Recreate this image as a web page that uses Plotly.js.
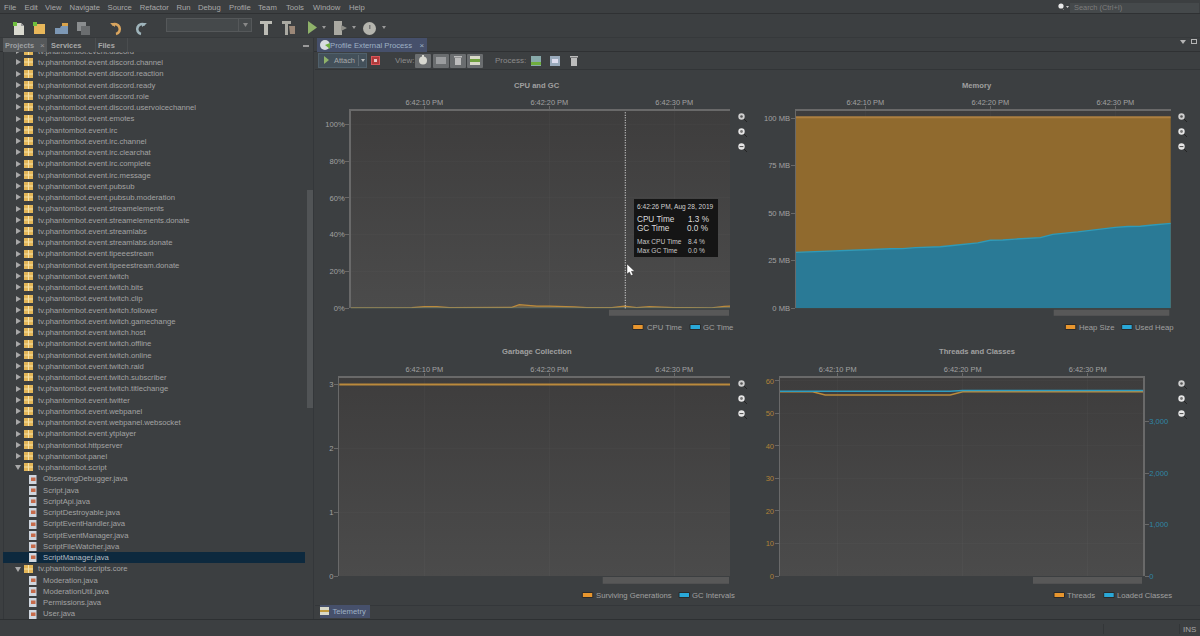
<!DOCTYPE html>
<html><head><meta charset="utf-8">
<script src="https://cdn.plot.ly/plotly-3.0.1.min.js"></script>
<style>
html,body{margin:0;padding:0;background:#3c3f41;overflow:hidden;width:1200px;height:636px;font-family:"Liberation Sans",Arial,sans-serif;}
#chrome{position:absolute;left:0;top:0;width:1200px;height:636px;overflow:hidden;}
#chart{position:absolute;left:0;top:0;width:1200px;height:636px;}
.t{position:absolute;white-space:nowrap;line-height:7px;height:7px;color:#a6a6a6;}
.b{position:absolute;box-sizing:border-box;}
svg.i{position:absolute;overflow:visible;}
</style></head><body>
<div id="chrome"></div><div id="chart"></div>
<script>
// ---------- chart data (seconds past 6:42:00 PM) ----------
const cpuSeconds   = [4,8,9,10,11,12,14,16,17,17.6,19,20,21,22,23,24,25,26,27,28,29,30,31,32,33,34,35];
const cpuTime      = [0.2,0.2,0.4,0.9,0.9,0.4,0.3,0.4,0.5,2.0,1.2,1.2,1.1,0.8,0.4,0.4,0.4,1.2,0.4,0.9,0.6,0.4,0.4,0.3,0.3,1.0,1.4];
const gcSeconds    = [4,35];
const gcTime       = [0,0];
const memSeconds   = [4,5,6,7,8,9,10,11,12,13,14,15,16,17,18,19,20,21,22,23,24,25,26,27,28,29,30,31,32,33,34,35];
const heapSize     = [100.5,100.5,100.5,100.5,100.5,100.5,100.5,100.5,100.5,100.5,100.5,100.5,100.5,100.5,100.5,100.5,100.5,100.5,100.5,100.5,100.5,100.5,100.5,100.5,100.5,100.5,100.5,100.5,100.5,100.5,100.5,100.5];
const usedHeap     = [29.3,29.6,29.9,30.1,30.4,30.7,31,31.1,31.3,31.4,31.9,32.1,32.4,33,33.6,34.4,35.8,35.9,36.4,36.8,37.2,38.9,39.4,40.2,41,41.9,42.6,43,43.2,43.8,44.4,45];
const genSeconds   = [3,35];
const survivingGen = [3,3];
const gcIntervals  = [null,null];
const thrSeconds   = [5,8,9,19,20,35];
const threads      = [56.7,56.7,55.7,55.7,56.7,56.7];
const clsSeconds   = [5,19,20,35];
const loadedClasses= [3590,3590,3605,3605];
const hoverSecond  = 26.08;

// ---------- text ----------
const menuLabels = [['File',4],['Edit',24.5],['View',45],['Navigate',69.6],['Source',107.5],['Refactor',139.7],['Run',176.4],['Debug',198],['Profile',229],['Team',258],['Tools',286],['Window',313],['Help',349]];
const treeRows = ['tv.phantombot.event.discord','tv.phantombot.event.discord.channel','tv.phantombot.event.discord.reaction','tv.phantombot.event.discord.ready','tv.phantombot.event.discord.role','tv.phantombot.event.discord.uservoicechannel','tv.phantombot.event.emotes','tv.phantombot.event.irc','tv.phantombot.event.irc.channel','tv.phantombot.event.irc.clearchat','tv.phantombot.event.irc.complete','tv.phantombot.event.irc.message','tv.phantombot.event.pubsub','tv.phantombot.event.pubsub.moderation','tv.phantombot.event.streamelements','tv.phantombot.event.streamelements.donate','tv.phantombot.event.streamlabs','tv.phantombot.event.streamlabs.donate','tv.phantombot.event.tipeeestream','tv.phantombot.event.tipeeestream.donate','tv.phantombot.event.twitch','tv.phantombot.event.twitch.bits','tv.phantombot.event.twitch.clip','tv.phantombot.event.twitch.follower','tv.phantombot.event.twitch.gamechange','tv.phantombot.event.twitch.host','tv.phantombot.event.twitch.offline','tv.phantombot.event.twitch.online','tv.phantombot.event.twitch.raid','tv.phantombot.event.twitch.subscriber','tv.phantombot.event.twitch.titlechange','tv.phantombot.event.twitter','tv.phantombot.event.webpanel','tv.phantombot.event.webpanel.websocket','tv.phantombot.event.ytplayer','tv.phantombot.httpserver','tv.phantombot.panel','tv.phantombot.script','ObservingDebugger.java','Script.java','ScriptApi.java','ScriptDestroyable.java','ScriptEventHandler.java','ScriptEventManager.java','ScriptFileWatcher.java','ScriptManager.java','tv.phantombot.scripts.core','Moderation.java','ModerationUtil.java','Permissions.java','User.java'];
const expandedRows = ['tv.phantombot.script','tv.phantombot.scripts.core'];
const selectedRow = 'ScriptManager.java';

// ---------- IDE chrome ----------
const root = document.getElementById('chrome');
function box(x,y,w,h,bg,extra){const d=document.createElement('div');d.className='b';d.style.cssText+=`left:${x}px;top:${y}px;width:${w}px;height:${h}px;background:${bg};`+(extra||'');(arguments[6]||root).appendChild(d);return d;}
function txt(x,y,s,size,color,extra,parent){const d=document.createElement('div');d.className='t';d.textContent=s;d.style.cssText+=`left:${x}px;top:${y-3.5}px;font-size:${size}px;color:${color||'#a6a6a6'};`+(extra||'');(parent||root).appendChild(d);return d;}
function icon(x,y,w,h,inner,parent){const ns='http://www.w3.org/2000/svg';const s=document.createElementNS(ns,'svg');s.setAttribute('class','i');s.setAttribute('width',w);s.setAttribute('height',h);s.setAttribute('viewBox',`0 0 ${w} ${h}`);s.style.left=x+'px';s.style.top=y+'px';s.innerHTML=inner;(parent||root).appendChild(s);}
// separators
box(0,13,1200,1,'#2f3133');box(0,37,1200,1,'#36393b');box(0,51,1200,1,'#2f3133');box(315,69,885,1,'#323537');
menuLabels.forEach(([m,x])=>txt(x,7,m,7.7,'#a9a9a9'));
// toolbar
const docI='<path d="M2 1h7l3 3v9H2z" fill="#d9d9cf"/><path d="M9 1l3 3H9z" fill="#999"/><rect x="1" y="0" width="4" height="4" fill="#6fbf3e"/>';
const pkgI='<rect x="1" y="2" width="11" height="10" fill="#e8b75a"/><rect x="0" y="0" width="4" height="4" fill="#6fbf3e"/>';
icon(12,22,13,14,docI);icon(33,22,13,14,pkgI);
icon(55,22,14,13,'<path d="M0 6h5l1-2h7v8H0z" fill="#7d98b5"/><rect x="7" y="1" width="6" height="3" fill="#d8a24a"/>');
icon(77,22,14,13,'<rect x="0" y="0" width="9" height="9" fill="#8a8d8f"/><rect x="4" y="4" width="9" height="9" fill="#6a6d6f"/>');
icon(110,22,14,13,'<path d="M2 3 A5 5 0 1 1 6 12" stroke="#d8a45e" stroke-width="2.6" fill="none"/><path d="M0 1l5 0 0 4z" fill="#d8a45e"/>');
icon(133,22,14,13,'<path d="M12 3 A5 5 0 1 0 8 12" stroke="#9fb4bb" stroke-width="2.6" fill="none"/><path d="M14 1l-5 0 0 4z" fill="#9fb4bb"/>');
box(166,18,86,14,'#45494b','border:1px solid #55585a;');
box(238,19,1,12,'#55585a');icon(243,23,5,4,'<path d="M0 0h5L2.5 4z" fill="#888"/>');
icon(260,21,12,14,'<path d="M0 0h12v3H8v11H4V3H0z" fill="#bcbcb5"/>');
icon(282,21,14,14,'<path d="M0 0h9v3H6v11H3V3H0z" fill="#aaa9a2"/><path d="M7 5h6v8H8z" fill="#9c8878"/>');
icon(308,21,9,13,'<path d="M0 0l9 6.5L0 13z" fill="#8fb26a"/>');icon(322,26,4,3,'<path d="M0 0h4L2 3z" fill="#999"/>');
icon(334,21,13,14,'<rect x="0" y="0" width="8" height="14" fill="#aaa9a2"/><path d="M7 4l6 3-6 3z" fill="#8e8e88"/>');icon(352,26,4,3,'<path d="M0 0h4L2 3z" fill="#999"/>');
icon(363,22,13,13,'<circle cx="6.5" cy="6.5" r="6.5" fill="#b5b5ae"/><rect x="6" y="3" width="1.5" height="4" fill="#777"/>');icon(382,26,4,3,'<path d="M0 0h4L2 3z" fill="#999"/>');
// search
icon(1058,3,7,8,'<circle cx="3" cy="3" r="2.6" fill="#e8e8e8"/><path d="M4 5l2 2" stroke="#777"/>');icon(1066,6,3,2,'<path d="M0 0h3L1.5 2z" fill="#ccc"/>');
box(1070,3,129,10,'#45494b');txt(1074,7,'Search (Ctrl+I)',7.4,'#7d7d7d');
// left pane
box(3,38,310,14,'#3f4244');box(3,38,44,14,'#55585a');box(95,38,1,14,'#4a4d4f');box(127,38,1,14,'#4a4d4f');
txt(5,45.5,'Projects',7.4,'#9ea0a2','font-weight:bold;');txt(40,45.5,'×',8,'#9a9a9a');
txt(51,45.5,'Services',7.4,'#a9a9a9','font-weight:bold;');txt(98,45.5,'Files',7.4,'#a9a9a9','font-weight:bold;');
box(303,45,6,1.5,'#9a9a9a');
box(3,52,1,567,'#34373a');box(3,619,310,1,'#2d3032');box(313,38,1,581,'#34373a');
const tree=box(3,52,303,567,'transparent','overflow:hidden;');
const rowY=i=>51.05+i*11.253-52+0.2;
treeRows.forEach((r,i)=>{
 const y=rowY(i),file=r.endsWith('.java');
 if(r===selectedRow) box(0,y-5.7,302,11,'#0d293e','',tree);
 if(file){
  icon(26,y-4.2,8,9,'<rect x="0" y="0" width="7.5" height="9" fill="#cfd6df"/><rect x="2" y="2.5" width="4.5" height="3.5" fill="#c56a4a"/>',tree);
  txt(40,y,r,7.7,r===selectedRow?'#b4bcc4':'#a3a3a3','',tree);
 } else {
  const open=expandedRows.includes(r);
  icon(12,y-3.2,6,6,open?'<path d="M0 1h6L3 6z" fill="#a9a9a9"/>':'<path d="M1 0l5 3-5 3z" fill="#a9a9a9"/>',tree);
  icon(21,y-4.2,9,8,'<rect width="9" height="8" fill="#e3b659"/><path d="M0 4h9M4.5 0v8" stroke="#f7e3a8" stroke-width="1"/>',tree);
  txt(35,y,r,7.7,'#a3a3a3','',tree);
 }
});
box(307,190,6,218,'#515456');
// right pane tabs
box(317,38,110,14,'#46506b');
icon(320,40,10,10,'<circle cx="5" cy="5" r="5" fill="#d8dce0"/><path d="M5 5l5-2v6z" fill="#6fae3e"/>');
txt(330,45.5,'Profile External Process',7.7,'#9fb0c4');txt(419.5,45.5,'×',8,'#9fb0c4');
icon(1180,40,6,4,'<path d="M0 0h6L3 4z" fill="#b5b5b5"/>');box(1191,39,6,5,'transparent','border:1px solid #b5b5b5;');
// profiler toolbar
box(318,53,49,15,'#43505a','border:1px solid #50606b;');
icon(324,56,5,8,'<path d="M0 0l5 4-5 4z" fill="#8fb26a"/>');txt(334,60.5,'Attach',7.4,'#a9a9a9');box(358,55,1,11,'#5e6a72');icon(361,59,4,3,'<path d="M0 0h4L2 3z" fill="#bbb"/>');
box(371,55.5,9,9,'#b03a3a','border:1px solid #d8555a;');box(374,58.5,3,3,'#e9c9c9');
txt(395,60.5,'View:',8,'#8c8c8c');
[415,433,450,467].forEach(x=>box(x,53.5,16,14,'#6a6d6f','border-radius:1px;'));
icon(419,55,8,10,'<circle cx="4" cy="5.5" r="4" fill="#d8d8d0"/><rect x="3" y="0" width="2" height="2" fill="#d8d8d0"/>');
icon(436,57,10,7,'<rect width="10" height="7" fill="#9a9c9e"/>');icon(454,56,8,9,'<rect x="1" y="2" width="6" height="7" fill="#bcbcbc"/><rect x="0" y="0" width="8" height="1.5" fill="#bcbcbc"/>');
icon(470,56,10,9,'<rect width="10" height="9" fill="#d8d8c8"/><rect y="3" width="10" height="3" fill="#6fa03e"/>');
txt(495,60.5,'Process:',8,'#8c8c8c');
icon(531,56,10,10,'<rect width="10" height="10" fill="#8aa"/><rect y="6" width="10" height="3" fill="#6fae3e"/>');
icon(550,56,10,10,'<rect width="10" height="10" fill="#9ab"/><rect x="2" y="3" width="6" height="4" fill="#dde"/>');
icon(570,56,8,10,'<rect x="1" y="2" width="6" height="8" fill="#bcbcbc"/><rect x="0" y="0" width="8" height="1.5" fill="#bcbcbc"/>');
// bottom
box(315,605,885,1,'#34373a');box(0,619,1200,1,'#2d3032');box(320,605,50,13,'#46506b');
icon(320,607,9,8,'<rect width="9" height="8" fill="#d8d8c8"/><rect y="3" width="9" height="2" fill="#c09a3e"/>');
txt(332.5,611.5,'Telemetry',7.7,'#9fb0c4');box(1103,624,1,10,'#333638');box(1179,624,1,10,'#333638');txt(1183,629,'INS',8,'#a6a6a6');
// zoom glyphs
function zoomIcons(x,y0){[['#cfcfcf','<circle cx="3.5" cy="3.5" r="1.3" fill="#555"/>'],['#e6e6e6','<circle cx="3.5" cy="3.5" r="1.4" fill="#777"/>'],['#e6e6e6','<rect x="1.6" y="3" width="3.8" height="1.1" fill="#555"/>']].forEach(([c,g],i)=>icon(x-3.5,y0+15*i-3.5,10,10,`<circle cx="3.5" cy="3.5" r="3.2" fill="${c}"/>${g}<path d="M6 6l3 3" stroke="#222" stroke-width="1"/>`));}
zoomIcons(741,116.7);zoomIcons(1181.7,116.7);zoomIcons(741,383);zoomIcons(1181.7,383);
// plot backgrounds (gradient)
const plotBoxes={cpu:[350.7,111,730,308.3],mem:[796,111,1170.7,308.3],gc:[339.3,377.7,730,576],thr:[780,377.7,1143.3,576]};
Object.values(plotBoxes).forEach(([a,t,b,c])=>box(a,t,b-a,c-t,'linear-gradient(#3e3d3d,#4b4b4b)'));
// mouse pointer on top of the chart
const top2=document.createElement('div');top2.style.cssText='position:absolute;left:0;top:0;width:1200px;height:636px;pointer-events:none;z-index:5';document.body.appendChild(top2);
icon(627,264,8,12,'<path d="M0 0v10l2.4-2 1.6 3.6 2-.9-1.6-3.4H7.6z" fill="#fff" stroke="#222" stroke-width=".4"/>',top2);

// ---------- Plotly ----------
const stamp=s=>{const whole=Math.floor(s),ms=Math.round((s-whole)*1000);return '2019-08-28 18:42:'+String(whole).padStart(2,'0')+'.'+String(ms).padStart(3,'0');};
const times=a=>a.map(stamp);
const ORANGE='#bb8a3c',BLUE='#2f9dc0',FONT='"Liberation Sans",Arial,sans-serif';
const GREY='#a2a2a2',AXIS='#696969';
const traces=[
 {x:times(cpuSeconds),y:cpuTime,name:'CPU Time',xaxis:'x',yaxis:'y',type:'scatter',mode:'lines',fill:'tozeroy',fillcolor:'rgba(187,138,60,.35)',line:{color:ORANGE,width:1.2}},
 {x:times(gcSeconds),y:gcTime,name:'GC Time',xaxis:'x',yaxis:'y',type:'scatter',mode:'lines',line:{color:'rgba(70,130,150,.55)',width:1.4}},
 {x:times(memSeconds),y:heapSize,name:'Heap Size',xaxis:'x2',yaxis:'y2',type:'scatter',mode:'lines',fill:'tozeroy',fillcolor:'#906a2e',line:{color:'#ae8040',width:1.8}},
 {x:times(memSeconds),y:usedHeap,name:'Used Heap',xaxis:'x2',yaxis:'y2',type:'scatter',mode:'lines',fill:'tozeroy',fillcolor:'#2a7a96',line:{color:'#2f9ab8',width:1.4}},
 {x:times(genSeconds),y:survivingGen,name:'Surviving Generations',xaxis:'x3',yaxis:'y3',type:'scatter',mode:'lines',line:{color:ORANGE,width:2}},
 {x:times(genSeconds),y:gcIntervals,name:'GC Intervals',xaxis:'x3',yaxis:'y3',type:'scatter',mode:'lines',line:{color:BLUE,width:1.5}},
 {x:times(thrSeconds),y:threads,name:'Threads',xaxis:'x4',yaxis:'y4',type:'scatter',mode:'lines',line:{color:ORANGE,width:1.5}},
 {x:times(clsSeconds),y:loadedClasses,name:'Loaded Classes',xaxis:'x4',yaxis:'y5',type:'scatter',mode:'lines',line:{color:BLUE,width:1.5}}
];
const dom=(a,b)=>[a/1200,b/1200],ydom=(t,b)=>[1-b/636,1-t/636],py=p=>1-p/636,px=p=>p/1200;
function xa(box,r,anchor){return {domain:dom(box[0],box[2]),range:[stamp(r[0]),stamp(r[1])],type:'date',side:'top',anchor,tick0:'2019-08-28 18:42:00',dtick:10000,tickformat:'%-I:%M:%S %p',ticks:'outside',ticklen:3,tickwidth:1,ticklabelstandoff:-2,tickcolor:AXIS,tickfont:{family:FONT,size:7.4,color:GREY},showgrid:true,gridcolor:'rgba(255,255,255,.025)',showline:true,linecolor:AXIS,linewidth:1.6,zeroline:false,fixedrange:true};}
function ya(box,r,opts,anchor){return Object.assign({domain:ydom(box[1],box[3]),range:r,anchor,ticks:'outside',ticklen:4,tickwidth:1,ticklabelstandoff:-1,tickcolor:AXIS,tickfont:{family:FONT,size:7.6,color:GREY},showgrid:true,gridcolor:'rgba(255,255,255,.02)',showline:true,linecolor:AXIS,linewidth:1.4,zeroline:false,fixedrange:true},opts);}
const P=plotBoxes;
const layout={
 width:1200,height:636,margin:{l:0,r:0,t:0,b:0},paper_bgcolor:'rgba(0,0,0,0)',plot_bgcolor:'rgba(0,0,0,0)',showlegend:false,font:{family:FONT,color:GREY},
 xaxis:xa(P.cpu,[4.11,34.46],'y'),xaxis2:xa(P.mem,[4.456,34.43],'y2'),xaxis3:xa(P.gc,[3.2,34.46],'y3'),xaxis4:xa(P.thr,[5.384,34.45],'y4'),
 yaxis:ya(P.cpu,[0,107.2],{tickvals:[0,20,40,60,80,100],ticktext:['0%','20%','40%','60%','80%','100%']},'x'),
 yaxis2:ya(P.mem,[0,103.8],{tickvals:[0,25,50,75,100],ticktext:['0 MB','25 MB','50 MB','75 MB','100 MB']},'x2'),
 yaxis3:ya(P.gc,[0,3.108],{tickvals:[0,1,2,3]},'x3'),
 yaxis4:ya(P.thr,[0,61],{tickvals:[0,10,20,30,40,50,60],tickfont:{family:FONT,size:7.6,color:'#b08238'}},'x4'),
 yaxis5:ya(P.thr,[0,3855],{overlaying:'y4',side:'right',tickvals:[0,1000,2000,3000],tickformat:',',tickfont:{family:FONT,size:7.6,color:'#2f86a6'},showgrid:false},'x4'),
 shapes:[],annotations:[]
};
const S=layout.shapes,A=layout.annotations;
const rect=(a,t,b,c,fill,line)=>S.push({type:'rect',xref:'paper',yref:'paper',x0:px(a),x1:px(b),y0:py(c),y1:py(t),fillcolor:fill,line:line?{color:line,width:1}:{width:0},layer:'above'});
const note=(x,y,text,size,color,anchor,bold)=>A.push({xref:'paper',yref:'paper',x:px(x),y:py(y),text:bold?'<b>'+text+'</b>':text,showarrow:false,xanchor:anchor||'left',yanchor:'middle',font:{family:FONT,size,color:color||GREY},borderpad:0,borderwidth:0});
// titles
[['CPU and GC',536.7,85],['Memory',976.7,85],['Garbage Collection',536.7,351.7],['Threads and Classes',976.7,351.7]].forEach(([t,x,y])=>note(x,y,t,7.6,'#a0a0a0','center',true));
// scrollbar thumbs
[[609,309.7,729,315.7],[1053.7,309.7,1169.3,315.7],[602.7,577,729,583.7],[1033,577,1142,583.7]].forEach(([a,t,b,c])=>rect(a,t,b,c,'#585858'));
// legends
const SW_O='#e8962e',SW_B='#29a8d8';
[[632.7,646.7,'CPU Time',SW_O,327],[690,703.3,'GC Time',SW_B,327],[1065.3,1078.7,'Heap Size',SW_O,327],[1121.7,1135,'Used Heap',SW_B,327],[582.3,595.7,'Surviving Generations',SW_O,595],[679,692,'GC Intervals',SW_B,595],[1054,1066.7,'Threads',SW_O,595],[1103.7,1116.7,'Loaded Classes',SW_B,595]].forEach(([a,tx,t,c,y])=>{rect(a,y-2.5,a+10.5,y+2.5,c,'#2a2a2a');note(tx,y,t,7.7,'#a0a0a0');});
// hover marker and tooltip
S.push({type:'line',xref:'x',yref:'paper',x0:stamp(hoverSecond),x1:stamp(hoverSecond),y0:py(308.3),y1:py(111),line:{color:'#f0f0f0',width:1,dash:'1px,1.5px'},layer:'above'});
rect(634,199,718,257,'#151515');
note(637,206.7,'6:42:26 PM, Aug 28, 2019',6.6,'#d0d0d0');
note(637,219,'CPU Time',8.2,'#dcdcdc');note(687.5,219,'1.3 %',8.2,'#dcdcdc');
note(637,229,'GC Time',8.2,'#dcdcdc');note(687,229,'0.0 %',8.2,'#dcdcdc');
note(637,241.7,'Max CPU Time',6.6,'#c8c8c8');note(688,241.7,'8.4 %',6.6,'#c8c8c8');
note(637,250.7,'Max GC Time',6.6,'#c8c8c8');note(688,250.7,'0.0 %',6.6,'#c8c8c8');
Plotly.newPlot('chart',traces,layout,{displayModeBar:false,staticPlot:true});
</script></body></html>
